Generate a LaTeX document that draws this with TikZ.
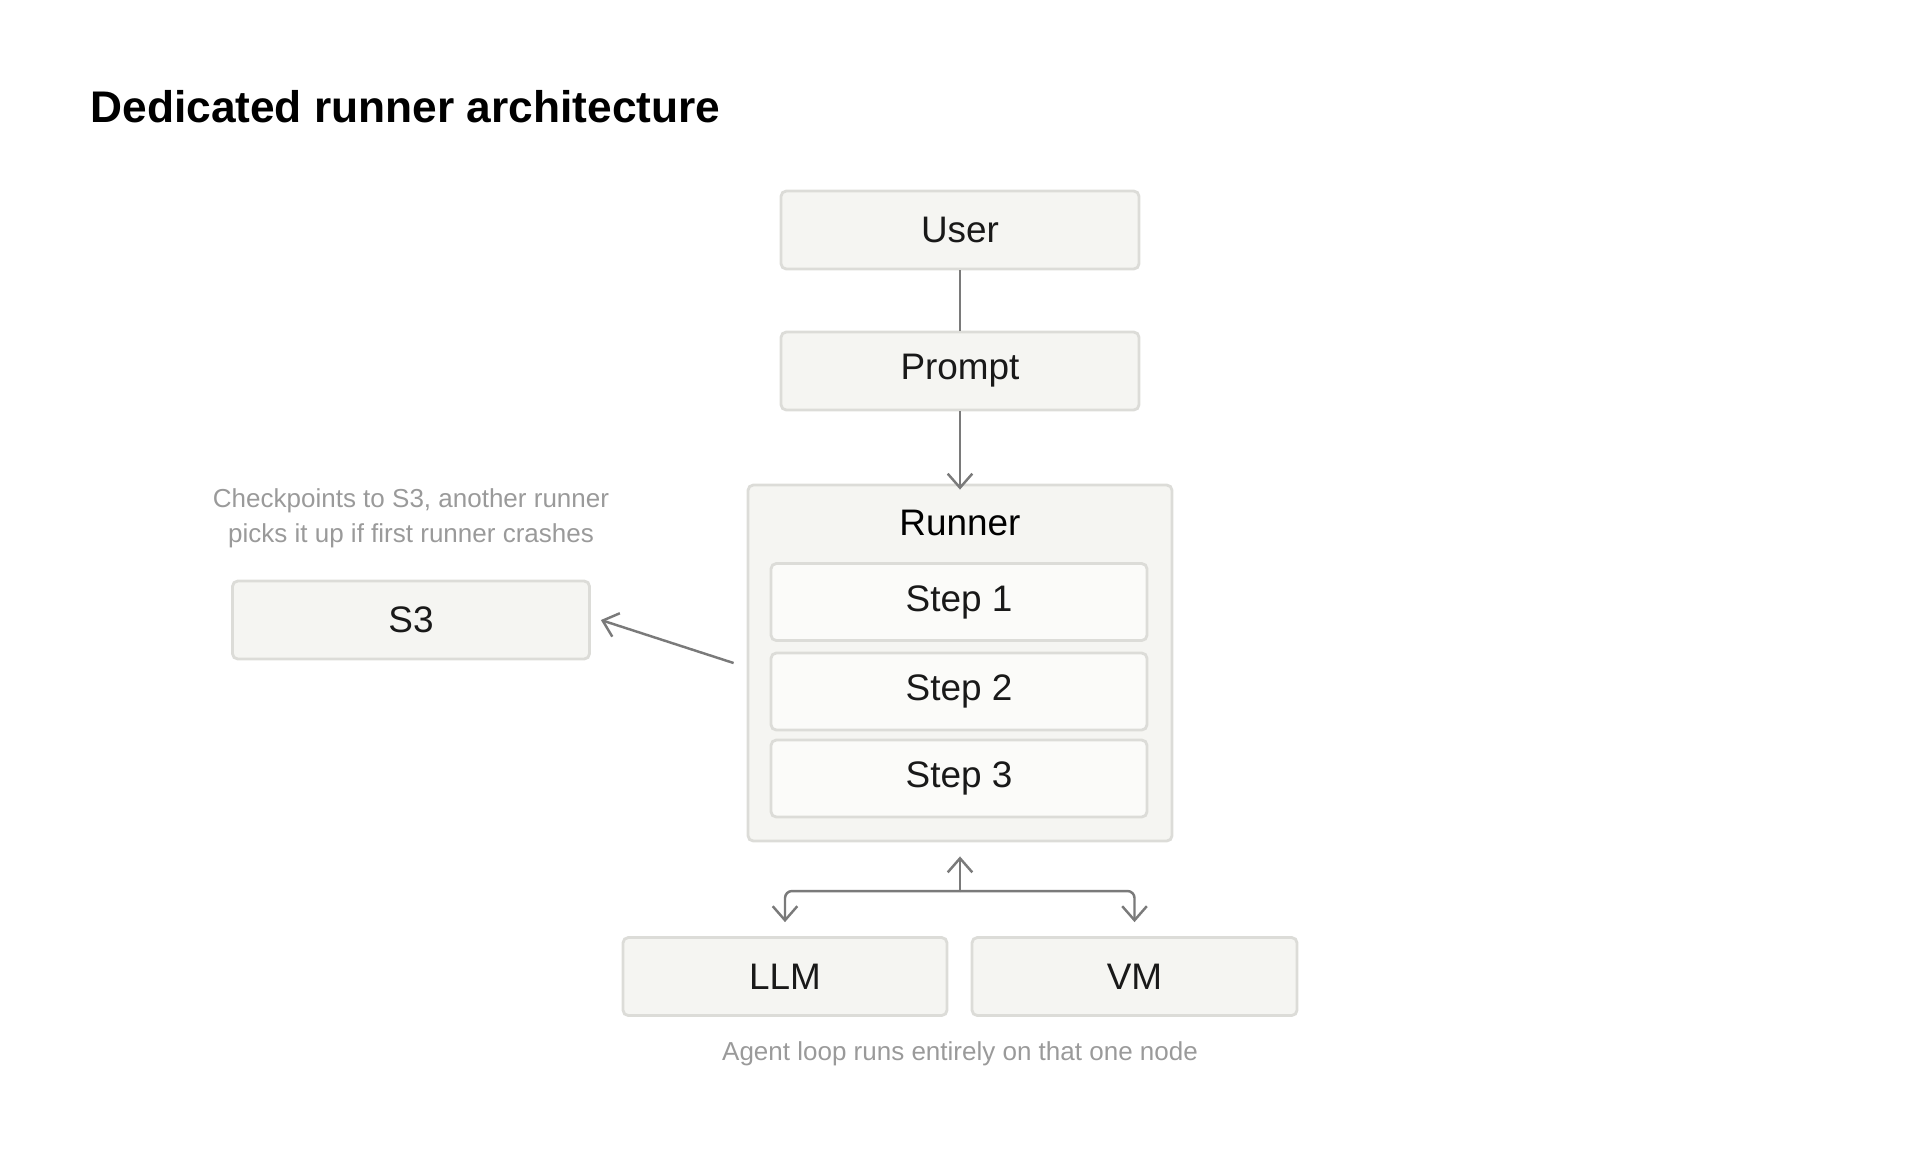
\documentclass[tikz,border=0pt]{standalone}
\usepackage{fontspec}
\setmainfont{Liberation Sans}
\usetikzlibrary{arrows.meta}
\definecolor{boxfill}{HTML}{F5F5F2}
\definecolor{stepfill}{HTML}{FBFBF9}
\definecolor{boxline}{HTML}{DCDCD8}
\definecolor{linegray}{HTML}{7A7A7A}
\definecolor{notegray}{HTML}{9A9A9A}
\begin{document}
\begin{tikzpicture}[>={Straight Barb[length=4pt,width=7pt]},
    box/.style={draw=boxline, fill=boxfill, line width=0.8pt, rounded corners=1.5pt,
        minimum height=0.78cm, font=\fontsize{10.5}{12}\selectfont, text=black!90},
    stepbox/.style={box, fill=stepfill, minimum width=3.76cm, minimum height=0.77cm},
    conn/.style={draw=linegray, line width=0.7pt},
    note/.style={text=notegray, font=\fontsize{7.4}{10}\selectfont, align=center}]
    % canvas
    \useasboundingbox (0,0) rectangle (19.2,-11.68);
    \node[anchor=base west, font=\bfseries\fontsize{12.6}{14}\selectfont] (title) at (0.78,-1.22) {Dedicated runner architecture};

    % main column
    \node[box, minimum width=3.58cm] (user) at (9.6,-2.30) {User};
    \node[box, minimum width=3.58cm] (prompt) at (9.6,-3.71) {Prompt};
    \node[box, minimum width=4.24cm, minimum height=3.56cm] (runner) at (9.6,-6.63) {};
    \node[font=\fontsize{10.5}{12}\selectfont] (rlabel) at (9.6,-5.23) {Runner};
    \node[stepbox] (step1) at (9.59,-6.02) {Step 1};
    \node[stepbox] (step2) at (9.59,-6.915) {Step 2};
    \node[stepbox] (step3) at (9.59,-7.785) {Step 3};

    % side store
    \node[box, minimum width=3.57cm] (s3) at (4.11,-6.20) {S3};
    \node[note] (s3note) at (4.11,-5.18) {Checkpoints to S3, another runner\\picks it up if first runner crashes};

    % bottom nodes
    \node[box, minimum width=3.24cm] (llm) at (7.85,-9.765) {LLM};
    \node[box, minimum width=3.25cm] (vm) at (11.345,-9.765) {VM};
    \node[note] (loopnote) at (9.6,-10.54) {Agent loop runs entirely on that one node};

    % connectors
    \coordinate (fork) at (9.6,-8.91);
    \draw[conn] (user) -- (prompt);
    \draw[conn, ->] (prompt) -- ([yshift=-0.6mm]runner.north);
    \draw[conn, ->] ([xshift=-1.3mm]runner.west) -- ([xshift=1mm]s3.east);
    \draw[conn, ->] (fork) -- ([yshift=-1.4mm]runner.south);
    \draw[conn, ->, rounded corners=2pt] (fork) -| ([yshift=1.4mm]llm.north);
    \draw[conn, ->, rounded corners=2pt] (fork) -| ([yshift=1.4mm]vm.north);
\end{tikzpicture}
\end{document}
